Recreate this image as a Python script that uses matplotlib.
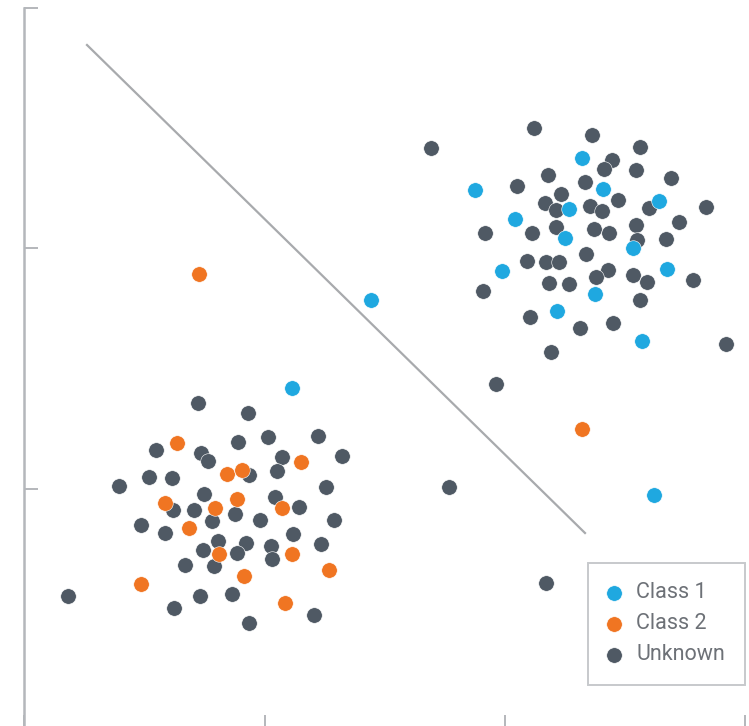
import matplotlib
matplotlib.use("Agg")
import matplotlib.pyplot as plt

# Data (units: arbitrary, one tick = 240.5 units)
class1_x = [268, 347, 630, 558, 451, 579, 635, 491, 545, 541, 609, 478, 643, 571, 533, 618]
class1_y = [341, 429, 234, 571, 539, 540, 528, 510, 520, 491, 481, 458, 460, 435, 418, 388]

class2_x = [153, 277, 203, 218, 141, 191, 213, 258, 165, 195, 268, 305, 220, 117, 261, 175, 558]
class2_y = [286, 267, 255, 259, 226, 221, 230, 221, 201, 175, 175, 159, 153, 145, 126, 455, 300]

unknown_x = [174, 224, 244, 294, 214, 132, 177, 184, 258, 318, 253, 225, 125, 148, 95, 302,
             180, 251, 149, 170, 275, 211, 188, 236, 310, 117, 141, 269, 194, 222, 247, 297,
             179, 213, 248, 161, 190, 44, 176, 208, 150, 290, 225,
             407, 510, 568, 616, 588, 580, 612, 524, 647, 493, 561, 537, 521, 532, 566, 578,
             594, 625, 682, 655, 461, 508, 532, 570, 585, 612, 613, 642, 562, 503, 522, 535,
             584, 572, 609, 623, 669, 459, 525, 545, 616, 506, 556, 589, 527, 702,
             472, 425, 522]
unknown_y = [326, 316, 292, 293, 287, 279, 276, 268, 272, 273, 258, 254, 252, 251, 243, 242,
             235, 232, 219, 219, 222, 215, 208, 209, 209, 204, 196, 195, 188, 186, 183, 185,
             179, 176, 170, 164, 163, 133, 133, 135, 121, 114, 106,
             581, 601, 594, 582, 569, 560, 559, 554, 551, 543, 547, 535, 526, 519, 523, 518,
             529, 521, 522, 507, 496, 496, 502, 500, 496, 504, 489, 490, 475, 468, 467, 467,
             459, 452, 454, 447, 449, 438, 446, 445, 429, 412, 401, 406, 377, 385,
             345, 242, 146]

boundary_x = [63, 561]
boundary_y = [684, 196]

BLUE = "#1fa8e0"
ORANGE = "#f07522"
DARK = "#4f5964"
AXIS = "#b4b7bb"

plt.rcParams['font.family'] = ['Roboto', 'DejaVu Sans']

fig = plt.figure(figsize=(7.49, 7.26), dpi=100)
ax = fig.add_axes([24/749, -3/726, 721/749, 721/726])

ax.plot(boundary_x, boundary_y, color="#a8aaad", lw=1.6, zorder=1)

ms = 125
ax.scatter(class1_x, class1_y, s=ms, color=BLUE, edgecolors="white", linewidths=0.4, label="Class 1", zorder=3)
ax.scatter(class2_x, class2_y, s=ms, color=ORANGE, edgecolors="white", linewidths=0.4, label="Class 2", zorder=3)
ax.scatter(unknown_x, unknown_y, s=ms, color=DARK, edgecolors="white", linewidths=0.4, label="Unknown", zorder=2)

ax.set_xlim(0, 721)
ax.set_ylim(0, 721)
ticks = [0, 240.5, 481, 721]
ax.set_xticks(ticks)
ax.set_yticks(ticks)
ax.set_xticklabels([])
ax.set_yticklabels([])
ax.tick_params(direction="in", length=10, width=1.4, color=AXIS)
for s in ["top", "right"]:
    ax.spines[s].set_visible(False)
for s in ["left", "bottom"]:
    ax.spines[s].set_color(AXIS)
    ax.spines[s].set_linewidth(1.8)

leg = ax.legend(loc="lower right", bbox_to_anchor=(1.0, 44/721), borderaxespad=0,
                frameon=True, fancybox=False, fontsize=15.5, labelcolor="#6d7177",
                handletextpad=0.75, borderpad=0.92, labelspacing=0.46, handlelength=0.6,
                scatterpoints=1)
leg.get_frame().set_edgecolor("#b9bcc0")
leg.get_frame().set_linewidth(1.4)

fig.savefig("out.png", dpi=100)
